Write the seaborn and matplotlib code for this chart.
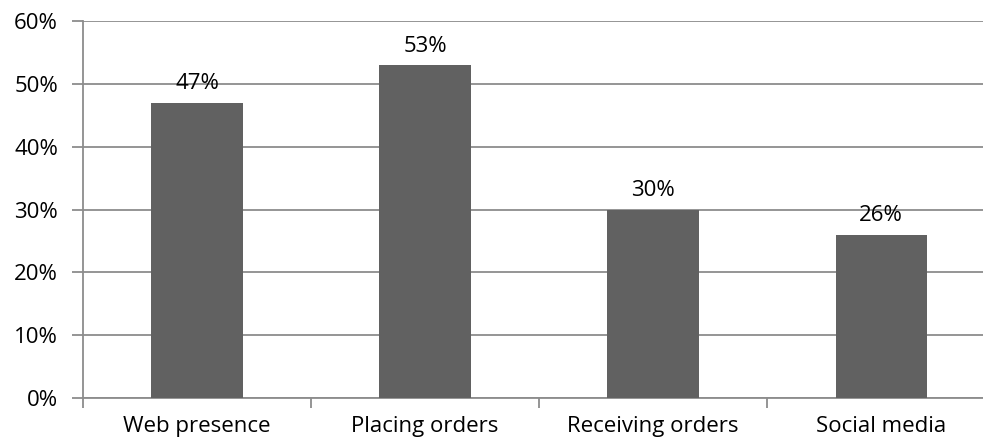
import matplotlib
matplotlib.use("Agg")
import matplotlib.pyplot as plt
import seaborn as sns
import pandas as pd
from matplotlib.ticker import FixedLocator

# data
categories = ['Web presence', 'Placing orders', 'Receiving orders', 'Social media']
values = [47, 53, 30, 26]
bar_labels = ['47%', '53%', '30%', '26%']
yticks = [0, 10, 20, 30, 40, 50, 60]

df = pd.DataFrame({'category': categories, 'value': values})

sns.set_style('white')
plt.rcParams['font.family'] = ['Open Sans', 'DejaVu Sans']
plt.rcParams['text.color'] = 'black'
plt.rcParams['xtick.color'] = 'black'
plt.rcParams['ytick.color'] = 'black'

fs = 16

fig = plt.figure(figsize=(9.83, 4.44), dpi=100)
ax = fig.add_axes([0.0844, 0.1036, 0.928, 0.849])

sns.barplot(data=df, x='category', y='value', color='#616161', width=0.4,
            saturation=1, edgecolor='none', linewidth=0, ax=ax, zorder=3)

ax.set_ylim(0, 60)
ax.set_xlim(-0.5, 3.5)
ax.set_yticks(yticks)
ax.set_yticklabels([f'{t}%' for t in yticks], fontsize=fs)
ax.yaxis.grid(True, color='#8c8c8c', linewidth=1.3, zorder=0)
ax.set_axisbelow(True)

# category boundaries as minor ticks
ax.xaxis.set_minor_locator(FixedLocator([-0.5, 0.5, 1.5, 2.5]))
ax.tick_params(axis='x', which='major', bottom=False, length=0, pad=13, labelsize=fs)
ax.tick_params(axis='x', which='minor', bottom=True, length=7, width=1.3,
               color='#8c8c8c', direction='out')
ax.tick_params(axis='y', left=True, length=8, width=1.3, color='#8c8c8c',
               labelcolor='black', direction='out', pad=10)

for s in ['top', 'right']:
    ax.spines[s].set_visible(False)
for s in ['left', 'bottom']:
    ax.spines[s].set_color('#8c8c8c')
    ax.spines[s].set_linewidth(1.3)

for i, (v, lab) in enumerate(zip(values, bar_labels)):
    ax.annotate(lab, (i, v), xytext=(0, 6), textcoords='offset points',
                ha='center', va='bottom', fontsize=fs, color='black')

ax.set_xlabel('')
ax.set_ylabel('')

fig.savefig('out.png', dpi=100)
